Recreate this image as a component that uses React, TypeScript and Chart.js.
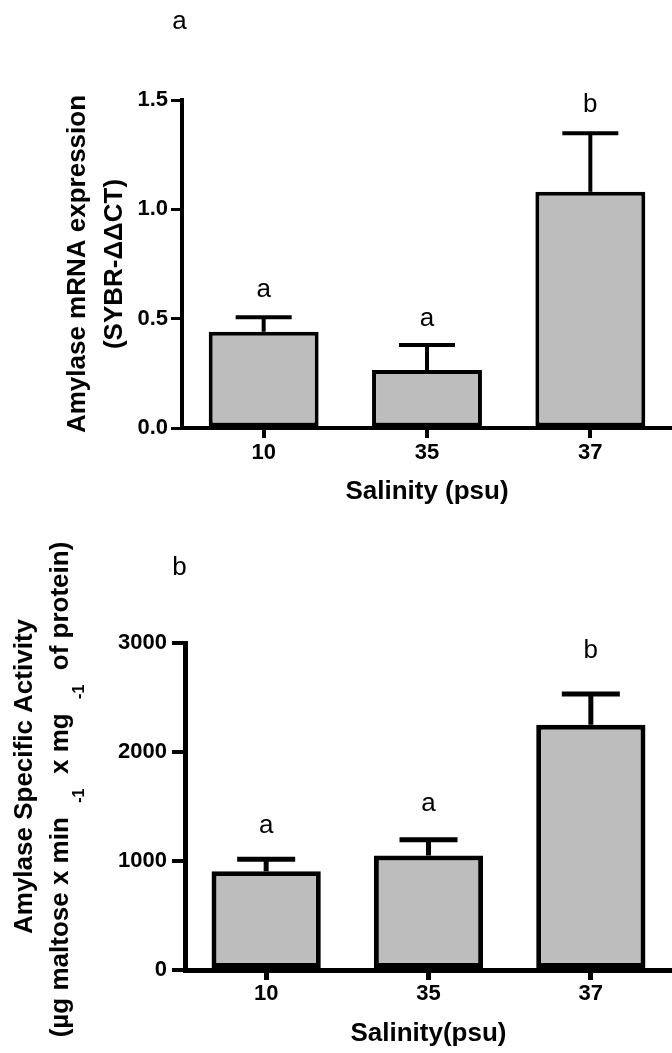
import React, { useEffect, useRef } from "react";
import { Chart, registerables } from "chart.js";
Chart.register(...registerables);

const FONT = '"Liberation Sans", Arial, Helvetica, sans-serif';

// ---------- data ----------
const categories = ["10", "35", "37"];

const mrnaMeans = [0.44, 0.265, 1.08];
const mrnaSem = [0.066, 0.115, 0.268];
const mrnaLetters = ["a", "a", "b"];
const mrnaLetterBase = [0.598, 0.466, 1.446];
const mrnaMax = 1.5;
const mrnaStep = 0.5;
const mrnaYTitle = ["Amylase mRNA expression", "(SYBR-\u0394\u0394CT)"];
const mrnaXTitle = "Salinity (psu)";
const mrnaPanel = "a";

const actMeans = [905, 1050, 2250];
const actSem = [110, 145, 282];
const actLetters = ["a", "a", "b"];
const actLetterBase = [1255, 1463, 2862];
const actMax = 3000;
const actStep = 1000;
const actYTitle1 = "Amylase Specific Activity";
const actYTitle2Text = ["(\u00b5g maltose x min  ", "-1", "  x mg  ", "-1", "  of protein)"];
const actYTitle2Sup = [false, true, false, true, false];
const actXTitle = "Salinity(psu)";
const actPanel = "b";

// ---------- plugins ----------
function annotPlugin(opts: any) {
  return {
    id: "annot",
    afterDatasetsDraw(chart: any) {
      const { ctx, chartArea } = chart;
      const xs = chart.scales.x;
      const ys = chart.scales.y;
      ctx.save();
      ctx.strokeStyle = "#000";
      ctx.lineWidth = opts.lw;
      ctx.lineCap = "butt";
      opts.means.forEach((m: number, i: number) => {
        const cx = xs.getPixelForValue(i);
        const yb = ys.getPixelForValue(m);
        const yt = ys.getPixelForValue(m + opts.sem[i]);
        ctx.beginPath();
        ctx.moveTo(cx, yb);
        ctx.lineTo(cx, yt);
        ctx.stroke();
        ctx.beginPath();
        ctx.moveTo(cx - opts.cap / 2, yt);
        ctx.lineTo(cx + opts.cap / 2, yt);
        ctx.stroke();
      });
      ctx.fillStyle = "#000";
      ctx.font = `26px ${FONT}`;
      ctx.textAlign = "center";
      ctx.textBaseline = "alphabetic";
      opts.letters.forEach((l: string, i: number) => {
        ctx.fillText(l, xs.getPixelForValue(i), ys.getPixelForValue(opts.letterBase[i]));
      });
      ctx.fillText(opts.panel, chartArea.left + opts.panelDx, chartArea.top + opts.panelDy);
      ctx.restore();
    },
  };
}

const richTitlePlugin = {
  id: "richTitle",
  afterDraw(chart: any) {
    const { ctx, chartArea } = chart;
    const cy = (chartArea.top + chartArea.bottom) / 2;
    ctx.save();
    ctx.fillStyle = "#000";
    ctx.textBaseline = "middle";
    // line 1
    ctx.save();
    ctx.translate(25, cy - 30);
    ctx.rotate(-Math.PI / 2);
    ctx.font = `bold 26px ${FONT}`;
    ctx.textAlign = "center";
    ctx.fillText(actYTitle1, 0, 0);
    ctx.restore();
    // line 2 with superscripts
    ctx.save();
    ctx.translate(61, cy - 17);
    ctx.rotate(-Math.PI / 2);
    ctx.textAlign = "left";
    const mainFont = `bold 26px ${FONT}`;
    const supFont = `bold 16px ${FONT}`;
    let total = 0;
    const widths = actYTitle2Text.map((t, i) => {
      ctx.font = actYTitle2Sup[i] ? supFont : mainFont;
      const w = ctx.measureText(t).width;
      total += w;
      return w;
    });
    let x = -total / 2;
    actYTitle2Text.forEach((t, i) => {
      ctx.font = actYTitle2Sup[i] ? supFont : mainFont;
      ctx.fillText(t, x, actYTitle2Sup[i] ? 19 : 0);
      x += widths[i];
    });
    ctx.restore();
    ctx.restore();
  },
};

function buildChart(canvas: HTMLCanvasElement, p: any) {
  const tickFont = { family: FONT, size: 22, weight: "bold" as const };
  const titleFont = { family: FONT, size: 26, weight: "bold" as const };
  return new Chart(canvas, {
    type: "bar",
    data: {
      labels: categories,
      datasets: [
        {
          data: p.means,
          backgroundColor: "#bdbdbd",
          borderColor: "#000",
          borderWidth: p.lw,
          borderSkipped: false,
          barPercentage: 0.673,
          categoryPercentage: 1,
        },
      ],
    },
    options: {
      responsive: false,
      animation: false,
      devicePixelRatio: 1,
      layout: { padding: { top: p.padTop, left: 0, right: 0, bottom: 0 } },
      plugins: { legend: { display: false }, tooltip: { enabled: false } },
      scales: {
        x: {
          offset: true,
          grid: {
            offset: false,
            drawOnChartArea: false,
            drawTicks: true,
            tickLength: 10,
            lineWidth: p.lw,
            color: "#000",
          },
          border: { display: true, color: "#000", width: p.lw },
          ticks: { color: "#000", font: tickFont, padding: p.xTickPad, maxRotation: 0, autoSkip: false },
          title: {
            display: true,
            text: p.xTitle,
            color: "#000",
            font: titleFont,
            padding: { top: 0, bottom: p.xTitlePadBottom },
          },
          afterFit: (s: any) => {
            s.height = p.xHeight;
          },
        },
        y: {
          min: 0,
          max: p.max,
          grid: {
            drawOnChartArea: false,
            drawTicks: true,
            tickLength: p.yTickLen,
            lineWidth: p.lw - 1,
            color: "#000",
          },
          border: { display: true, color: "#000", width: p.lw },
          ticks: {
            stepSize: p.step,
            color: "#000",
            font: tickFont,
            padding: p.yTickPad,
            callback: p.fmt,
          },
          title: p.yTitle
            ? {
                display: true,
                text: p.yTitle,
                color: "#000",
                font: { ...titleFont, lineHeight: 1.42 },
                padding: { top: 59.5, bottom: 0 },
              }
            : { display: false },
          afterFit: (s: any) => {
            s.width = p.yWidth;
          },
        },
      },
    },
    plugins: p.plugins,
  } as any);
}

function ChartCanvas({ top, height, params }: { top: number; height: number; params: any }) {
  const ref = useRef<HTMLCanvasElement | null>(null);
  useEffect(() => {
    if (!ref.current) return;
    const chart = buildChart(ref.current, params);
    return () => chart.destroy();
  }, []);
  return (
    <canvas
      ref={ref}
      width={672}
      height={height}
      style={{ position: "absolute", left: 0, top, width: 672, height, display: "block" }}
    />
  );
}

const topParams = {
  means: mrnaMeans,
  max: mrnaMax,
  step: mrnaStep,
  fmt: (v: any) => Number(v).toFixed(1),
  lw: 4,
  padTop: 100,
  xHeight: 102,
  yWidth: 182,
  yTickLen: 11,
  yTickPad: 3,
  xTickPad: 2,
  xTitle: mrnaXTitle,
  xTitlePadBottom: 23,
  yTitle: mrnaYTitle,
  plugins: [
    annotPlugin({
      means: mrnaMeans,
      sem: mrnaSem,
      letters: mrnaLetters,
      letterBase: mrnaLetterBase,
      cap: 56,
      lw: 4,
      panel: mrnaPanel,
      panelDx: -2.5,
      panelDy: -71,
    }),
  ],
};

const bottomParams = {
  means: actMeans,
  max: actMax,
  step: actStep,
  fmt: (v: any) => String(v),
  lw: 5,
  padTop: 113,
  xHeight: 83,
  yWidth: 185,
  yTickLen: 13,
  yTickPad: 5,
  xTickPad: 1,
  xTitle: actXTitle,
  xTitlePadBottom: 4,
  yTitle: null,
  plugins: [
    annotPlugin({
      means: actMeans,
      sem: actSem,
      letters: actLetters,
      letterBase: actLetterBase,
      cap: 58,
      lw: 5,
      panel: actPanel,
      panelDx: -5.5,
      panelDy: -68,
    }),
    richTitlePlugin,
  ],
};

export default function App() {
  return (
    <div style={{ position: "absolute", left: 0, top: 0, width: 672, height: 1053, background: "#fff" }}>
      <ChartCanvas top={0} height={530} params={topParams} />
      <ChartCanvas top={530} height={523} params={bottomParams} />
    </div>
  );
}
